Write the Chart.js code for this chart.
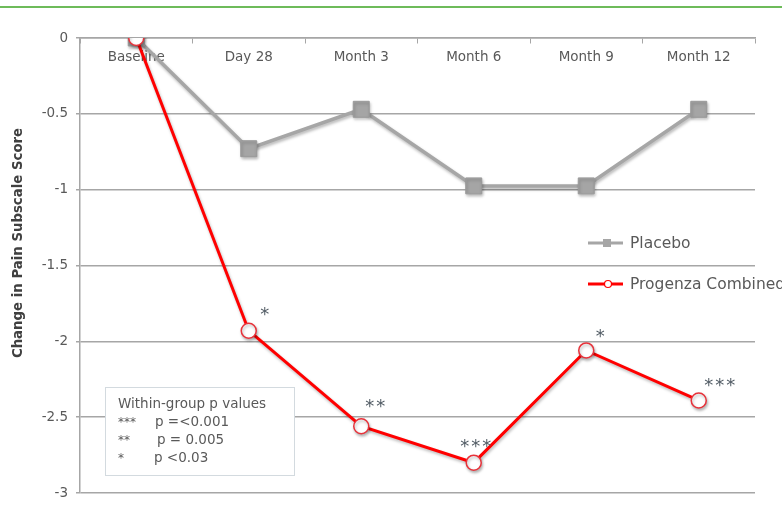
<!DOCTYPE html>
<html>
<head>
<meta charset="utf-8">
<script src="https://cdn.jsdelivr.net/npm/chart.js@4"></script>
<style>
  html, body { margin: 0; padding: 0; background: #fff; }
  #wrap { position: relative; width: 782px; height: 510px; overflow: hidden; }
  #topline { position: absolute; left: 0; top: 6px; width: 782px; height: 2px; background: #6dbb5a; }
</style>
</head>
<body>
<div id="wrap">
  <div id="topline"></div>
  <canvas id="painChart" width="782" height="510"></canvas>
</div>
<script>
const labels = ['Baseline', 'Day 28', 'Month 3', 'Month 6', 'Month 9', 'Month 12'];
const placebo = [0, -0.73, -0.47, -0.975, -0.975, -0.47];
const progenza = [0, -1.93, -2.56, -2.80, -2.06, -2.39];
const progenzaStars = ['', '*', '**', '***', '*', '***'];
const pValueLines = [
    ['***', 'p =<0.001'],
    ['**', 'p = 0.005'],
    ['*', 'p <0.03']
];

const FONT = '"DejaVu Sans", sans-serif';
const TEXT = '#595959';

// star offsets from each point (pixels)
const starOffset = [[0, 0], [17, -20], [15, -24], [3, -20], [15, -18], [22, -19]];

const extras = {
    id: 'extras',
    beforeDatasetsDraw(chart) {
        const ctx = chart.ctx;
        ctx.save();
        ctx.shadowColor = 'rgba(0,0,0,0.28)';
        ctx.shadowBlur = 3;
        ctx.shadowOffsetX = 1;
        ctx.shadowOffsetY = 2;
    },
    afterDatasetsDraw(chart) {
        const ctx = chart.ctx;
        ctx.restore();
        const meta = chart.getDatasetMeta(1);
        ctx.save();
        // significance stars
        ctx.fillStyle = '#515b64';
        ctx.font = '18px ' + FONT;
        ctx.letterSpacing = '2px';
        ctx.textAlign = 'center';
        ctx.textBaseline = 'middle';
        meta.data.forEach((pt, i) => {
            if (!progenzaStars[i]) return;
            ctx.fillText(progenzaStars[i], pt.x + starOffset[i][0], pt.y + starOffset[i][1] + 5);
        });
        ctx.letterSpacing = '0px';

        // p value box
        ctx.fillStyle = '#fff';
        ctx.fillRect(105, 387, 189, 88);
        ctx.strokeStyle = '#d3dadf';
        ctx.lineWidth = 1;
        ctx.strokeRect(105.5, 387.5, 189, 88);
        ctx.fillStyle = TEXT;
        ctx.textAlign = 'left';
        ctx.font = '13.5px ' + FONT;
        ctx.fillText('Within-group p values', 118, 404);
        const px = [155, 157, 154];
        pValueLines.forEach((l, i) => {
            const y = 422 + i * 18;
            ctx.font = '12px ' + FONT;
            ctx.fillText(l[0], 118, y + 1);
            ctx.font = '13.5px ' + FONT;
            ctx.fillText(l[1], px[i], y);
        });

        // legend
        ctx.lineWidth = 3;
        ctx.strokeStyle = '#a6a6a6';
        ctx.beginPath(); ctx.moveTo(588, 243); ctx.lineTo(623, 243); ctx.stroke();
        ctx.fillStyle = '#a6a6a6';
        ctx.fillRect(603, 239, 8, 8);
        ctx.strokeStyle = '#ff0000';
        ctx.beginPath(); ctx.moveTo(588, 284); ctx.lineTo(623, 284); ctx.stroke();
        ctx.fillStyle = '#fff';
        ctx.lineWidth = 1.2;
        ctx.beginPath(); ctx.arc(608, 284, 3.5, 0, Math.PI * 2); ctx.fill(); ctx.stroke();
        ctx.fillStyle = TEXT;
        ctx.font = '15.5px ' + FONT;
        ctx.fillText(chart.data.datasets[0].label, 630, 244);
        ctx.fillText(chart.data.datasets[1].label, 630, 285);

        // y axis title
        ctx.save();
        ctx.translate(19, 243);
        ctx.rotate(-Math.PI / 2);
        ctx.textAlign = 'center';
        ctx.fillStyle = '#404040';
        ctx.font = 'bold 13.3px ' + FONT;
        ctx.fillText('Change in Pain Subscale Score', 0, 0);
        ctx.restore();
        ctx.restore();
    }
};

const ctx = document.getElementById('painChart').getContext('2d');
new Chart(ctx, {
    type: 'line',
    data: {
        labels: labels,
        datasets: [{
            label: 'Placebo',
            data: placebo,
            order: 1,
            borderColor: '#a6a6a6',
            borderWidth: 3.5,
            pointStyle: 'rect',
            pointRadius: 11.3,
            pointBackgroundColor: '#a5a5a5',
            pointBorderColor: '#9a9a9a',
            pointBorderWidth: 1,
            tension: 0
        }, {
            label: 'Progenza Combined',
            data: progenza,
            order: 0,
            borderColor: '#ff0000',
            borderWidth: 3,
            pointStyle: 'circle',
            pointRadius: 7.5,
            pointBackgroundColor: '#ffffff',
            pointBorderColor: '#e8323a',
            pointBorderWidth: 1.5,
            tension: 0
        }]
    },
    options: {
        responsive: false,
        animation: false,
        layout: { padding: { left: 6, right: 27, top: 38, bottom: 17 } },
        plugins: {
            legend: { display: false },
            tooltip: { enabled: false }
        },
        scales: {
            x: {
                position: { y: 0 },
                offset: true,
                grid: { drawOnChartArea: false, drawTicks: true, tickLength: 5, color: '#a6a6a6', offset: true },
                border: { color: '#a6a6a6', width: 1.5 },
                ticks: { color: TEXT, font: { family: FONT, size: 13.5 }, padding: 6 }
            },
            y: {
                min: -3,
                max: 0,
                afterFit(scale) { scale.width = 74; },
                ticks: {
                    stepSize: 0.5,
                    color: TEXT,
                    font: { family: FONT, size: 13.5 },
                    padding: 8,
                    callback: v => String(v)
                },
                grid: { color: '#a6a6a6', lineWidth: 1.5, tickLength: 4 },
                border: { color: '#a6a6a6', width: 1.5 }
            }
        }
    },
    plugins: [extras]
});
</script>
</body>
</html>
